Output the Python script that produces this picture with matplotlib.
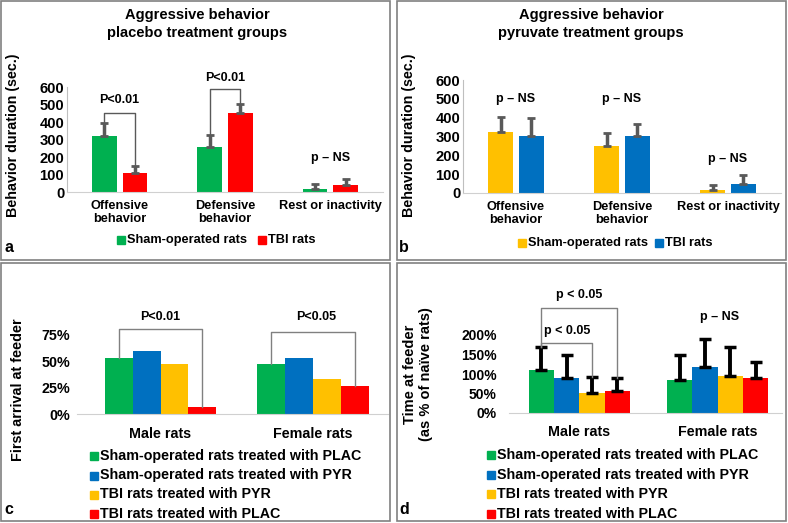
import numpy as np
import matplotlib
matplotlib.use("Agg")
import matplotlib.pyplot as plt
from matplotlib.patches import Rectangle

# ── data ────────────────────────────────────────────────────────────
behav_cats = ["Offensive\nbehavior", "Defensive\nbehavior", "Rest or inactivity"]
plac_sham = [320, 259, 19]
plac_sham_err = [73, 69, 29]
plac_tbi = [109, 450, 38]
plac_tbi_err = [41, 52, 36]

pyr_sham = [325, 249, 18]
pyr_sham_err = [80, 67, 23]
pyr_tbi = [304, 304, 50]
pyr_tbi_err = [92, 60, 44]

sex_cats = ["Male rats", "Female rats"]
group_labels = ["Sham-operated rats treated with PLAC",
                "Sham-operated rats treated with PYR",
                "TBI rats treated with PYR",
                "TBI rats treated with PLAC"]
first_arrival = [[53, 47], [60, 53], [47, 33], [7, 27]]          # %
feeder_time = [[109, 84], [90, 118], [52, 95], [56, 90]]         # % of naive
feeder_time_err = [[59, 66], [60, 72], [40, 73], [34, 41]]

GREEN, RED, YELLOW, BLUE = "#00B050", "#FF0000", "#FFC000", "#0070C0"
GROUP_COLORS = [GREEN, BLUE, YELLOW, RED]
ERR_GREY = "#595959"
LINE_GREY = "#808080"

W, H = 788, 523
plt.rcParams["font.family"] = ["Liberation Sans", "DejaVu Sans"]
plt.rcParams["font.weight"] = "bold"
FS_AB = 9.2     # text size in the top panels
FS_CD = 10.3    # text size in the bottom panels
FS_P = 9        # significance labels

fig = plt.figure(figsize=(W / 100, H / 100), dpi=100)


def px_axes(left, top, right, bottom):
    return fig.add_axes([left / W, 1 - bottom / H, (right - left) / W, (bottom - top) / H])


def fx(x):
    return x / W


def fy(y):
    return 1 - y / H


# panel borders
for (x0, y0, x1, y1) in [(1, 1, 390, 260), (397, 1, 786, 260),
                         (1, 263, 390, 521), (397, 263, 786, 521)]:
    fig.patches.append(Rectangle((fx(x0), fy(y1)), (x1 - x0) / W, (y1 - y0) / H,
                                 transform=fig.transFigure, fill=False,
                                 edgecolor=LINE_GREY, linewidth=1.2))


def bracket(ax, x0, y0, x1, y1, top, color=ERR_GREY, lw=1.0):
    ax.plot([x0, x0, x1, x1], [y0, top, top, y1], color=color, lw=lw,
            clip_on=False, zorder=4)


def legend_rows(items, fs):
    # items: (square_left_px, y_center_px, color, label)
    for x, y, c, lab in items:
        fig.patches.append(Rectangle((fx(x), fy(y + 4)), 8 / W, 8 / H,
                                     transform=fig.transFigure, color=c))
        fig.text(fx(x + 10), fy(y), lab, ha="left", va="center", fontsize=fs,
                 weight="bold")


def style_axes(ax, left_spine, xfs, yfs):
    for s in ["top", "right"]:
        ax.spines[s].set_visible(False)
    ax.spines["left"].set_visible(left_spine)
    ax.spines["left"].set_color("#bfbfbf")
    ax.spines["bottom"].set_color("#d0d0d0")
    ax.tick_params(length=0)
    ax.tick_params(axis="x", labelsize=xfs)
    ax.tick_params(axis="y", labelsize=yfs)
    for t in ax.get_xticklabels() + ax.get_yticklabels():
        t.set_fontweight("bold")


# ── panel a / b: two-bar behaviour charts ───────────────────────────
def behaviour_panel(box, sham, sham_err, tbi, tbi_err, c1, c2):
    ax = px_axes(*box)
    x = np.arange(len(behav_cats))
    w, off = 0.235, 0.145
    ax.bar(x - off, sham, w, color=c1, zorder=2)
    ax.bar(x + off, tbi, w, color=c2, zorder=2)
    ax.errorbar(x - off, sham, yerr=[np.zeros(3), sham_err], fmt="none",
                ecolor=ERR_GREY, elinewidth=2.5, capsize=3, capthick=2, zorder=3)
    ax.errorbar(x + off, tbi, yerr=[np.zeros(3), tbi_err], fmt="none",
                ecolor=ERR_GREY, elinewidth=2.5, capsize=3, capthick=2, zorder=3)
    ax.set_xlim(-0.5, 2.5)
    ax.set_ylim(0, 600)
    ax.set_yticks(range(0, 601, 100))
    ax.set_xticks(x)
    ax.set_xticklabels(behav_cats, linespacing=1.1)
    ax.tick_params(axis="x", pad=6)
    ax.tick_params(axis="y", pad=2)
    style_axes(ax, True, FS_AB, 10.6)
    return ax, x, off


ax_a, x, off = behaviour_panel((67, 87, 383, 192), plac_sham, plac_sham_err,
                               plac_tbi, plac_tbi_err, GREEN, RED)
bracket(ax_a, x[0] - off, plac_sham[0] + plac_sham_err[0], x[0] + off,
        plac_tbi[0] + plac_tbi_err[0], 450)
ax_a.text(x[0], 525, "P<0.01", ha="center", va="center", fontsize=FS_P, weight="bold")
bracket(ax_a, x[1] - off, plac_sham[1] + plac_sham_err[1], x[1] + off,
        plac_tbi[1] + plac_tbi_err[1], 588)
ax_a.text(x[1], 652, "P<0.01", ha="center", va="center", fontsize=FS_P, weight="bold")
ax_a.text(x[2], 192, "p – NS", ha="center", va="center", fontsize=FS_P, weight="bold")

ax_b, x, off = behaviour_panel((463, 80, 781, 193), pyr_sham, pyr_sham_err,
                               pyr_tbi, pyr_tbi_err, YELLOW, BLUE)
ax_b.text(x[0], 499, "p – NS", ha="center", va="center", fontsize=FS_P, weight="bold")
ax_b.text(x[1], 499, "p – NS", ha="center", va="center", fontsize=FS_P, weight="bold")
ax_b.text(x[2], 183, "p – NS", ha="center", va="center", fontsize=FS_P, weight="bold")

fig.text(fx(197), fy(24), "Aggressive behavior\nplacebo treatment groups",
         ha="center", va="center", fontsize=10.5, weight="bold", linespacing=1.3)
fig.text(fx(591), fy(24), "Aggressive behavior\npyruvate treatment groups",
         ha="center", va="center", fontsize=10.5, weight="bold", linespacing=1.3)
fig.text(fx(13), fy(135), "Behavior duration (sec.)", rotation=90,
         ha="center", va="center", fontsize=10.3, weight="bold")
fig.text(fx(409), fy(135), "Behavior duration (sec.)", rotation=90,
         ha="center", va="center", fontsize=10.3, weight="bold")

legend_rows([(117, 240, GREEN, "Sham-operated rats"), (258, 240, RED, "TBI rats"),
             (518, 243, YELLOW, "Sham-operated rats"), (655, 243, BLUE, "TBI rats")],
            FS_AB)


# ── panel c / d: four-group charts ──────────────────────────────────
def group_panel(box, xlim, vals, errs=None):
    ax = px_axes(*box)
    x = np.arange(len(sex_cats))
    w = 0.183
    offs = [-1.5 * w, -0.5 * w, 0.5 * w, 1.5 * w]
    for i, (v, c) in enumerate(zip(vals, GROUP_COLORS)):
        ax.bar(x + offs[i], v, w, color=c, zorder=2)
        if errs is not None:
            ax.errorbar(x + offs[i], v, yerr=[np.zeros(2), errs[i]], fmt="none",
                        ecolor="black", elinewidth=2.8, capsize=4, capthick=2.5, zorder=3)
    ax.set_xlim(*xlim)
    ax.set_xticks(x)
    ax.set_xticklabels(sex_cats)
    ax.tick_params(axis="x", pad=9)
    return ax, x, offs


ax_c, x, offs = group_panel((77, 335, 388, 414), (-0.547, 1.49), first_arrival)
ax_c.set_ylim(0, 75)
ax_c.set_yticks([0, 25, 50, 75])
ax_c.set_yticklabels(["0%", "25%", "50%", "75%"])
ax_c.tick_params(axis="y", pad=5)
style_axes(ax_c, False, FS_CD, FS_CD)
bracket(ax_c, x[0] + offs[0], first_arrival[0][0], x[0] + offs[3], first_arrival[3][0],
        80.6, color=LINE_GREY)
ax_c.text(x[0], 92, "P<0.01", ha="center", va="center", fontsize=FS_P, weight="bold")
bracket(ax_c, x[1] + offs[0], first_arrival[0][1], x[1] + offs[3], first_arrival[3][1],
        77.5, color=LINE_GREY)
ax_c.text(x[1] + 0.02, 92, "P<0.05", ha="center", va="center", fontsize=FS_P, weight="bold")
fig.text(fx(18), fy(390), "First arrival at feeder", rotation=90,
         ha="center", va="center", fontsize=10.4, weight="bold")

ax_d, x, offs = group_panel((509, 335, 782, 413), (-0.507, 1.464), feeder_time,
                            feeder_time_err)
ax_d.set_ylim(0, 200)
ax_d.set_yticks([0, 50, 100, 150, 200])
ax_d.set_yticklabels(["0%", "50%", "100%", "150%", "200%"])
ax_d.tick_params(axis="y", pad=9)
style_axes(ax_d, False, FS_CD, 10)
top0 = feeder_time[0][0] + feeder_time_err[0][0]
bracket(ax_d, x[0] + offs[0], top0, x[0] + offs[2],
        feeder_time[2][0] + feeder_time_err[2][0], 180, color=LINE_GREY)
ax_d.text(x[0] - 0.085, 209, "p < 0.05", ha="center", va="center", fontsize=FS_P, weight="bold")
bracket(ax_d, x[0] + offs[0], top0, x[0] + offs[3],
        feeder_time[3][0] + feeder_time_err[3][0], 269, color=LINE_GREY)
ax_d.text(x[0], 303, "p < 0.05", ha="center", va="center", fontsize=FS_P, weight="bold")
ax_d.text(x[1] + 0.01, 247, "p – NS", ha="center", va="center", fontsize=FS_P, weight="bold")
fig.text(fx(418), fy(374), "Time at feeder\n(as % of naïve rats)", rotation=90,
         ha="center", va="center", fontsize=10.5, weight="bold", linespacing=1.2)

legend_rows([(90, y, c, lab) for y, c, lab in
             zip([456, 475.5, 494.5, 513.5], GROUP_COLORS, group_labels)], FS_CD)
legend_rows([(487, y, c, lab) for y, c, lab in
             zip([455, 474.5, 494, 513.5], GROUP_COLORS, group_labels)], FS_CD)

# panel letters
for lx, ly, s in [(9, 247, "a"), (404, 247, "b"), (9, 509, "c"), (404, 509, "d")]:
    fig.text(fx(lx), fy(ly), s, ha="center", va="center", fontsize=11.5, weight="bold")

fig.savefig("out.png", dpi=100)
